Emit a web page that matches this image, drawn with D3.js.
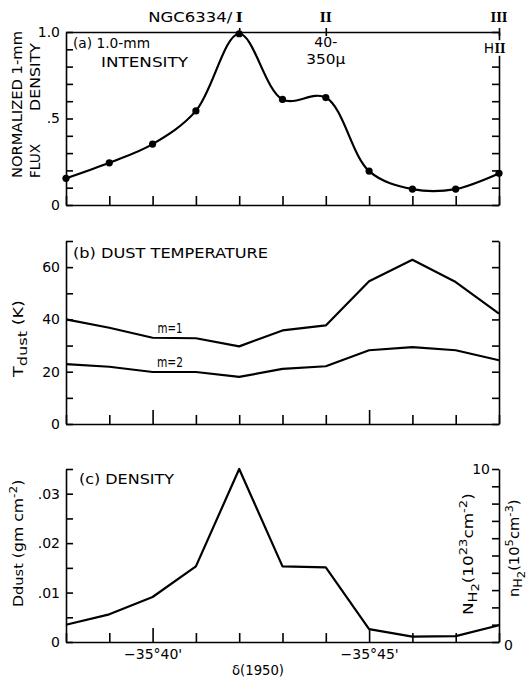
<!DOCTYPE html>
<html>
<head>
<meta charset="utf-8">
<script src="https://cdn.jsdelivr.net/npm/d3@7"></script>
<style>
  body { margin: 0; background: #fff; }
  svg { display: block; font-family: "DejaVu Sans", sans-serif; }
  .axis path, .axis line { stroke: #000; stroke-width: 1.6; }
  .axis text { font-size: 14px; fill: #000; font-family: "DejaVu Sans", sans-serif; }
  .roman { font-family: "DejaVu Serif", serif; font-weight: bold; }
</style>
</head>
<body>
<div id="chart"></div>
<script>
// declination, arcminutes south of -35 deg (delta = -35 deg N')
var decArcmin = [38, 39, 40, 41, 42, 43, 44, 45, 46, 47, 48];

// (a) normalized 1-mm flux density
var intensity = [0.154, 0.244, 0.352, 0.544, 0.99, 0.61, 0.621, 0.196, 0.092, 0.092, 0.183];

// (b) dust temperature (K)
var tempM1 = [40, 36.8, 33, 32.8, 29.7, 35.8, 37.7, 54.6, 62.8, 54.3, 42.2];
var tempM2 = [22.9, 21.9, 19.9, 19.9, 18, 21.1, 22.1, 28.2, 29.4, 28.2, 24.4];

// (c) dust column density (gm cm^-2)
var density = [0.0035, 0.0056, 0.0091, 0.0153, 0.035, 0.0153, 0.0151, 0.0026, 0.0011, 0.0012, 0.0034];

// source markers along the top
var markerDec = [42, 44, 48];
var markerName = ["I", "II", "III"];

// bottom tick labels
var labelDec = [40, 45];

var W = 529, H = 677;
var left = 66, right = 499;

var svg = d3.select("#chart").append("svg")
    .attr("width", W)
    .attr("height", H);

var x = d3.scaleLinear().domain([38, 48]).range([left, right]);

var yA = d3.scaleLinear().domain([0, 1]).range([205, 32]);
var yB = d3.scaleLinear().domain([0, 70]).range([424, 241]);
var yC = d3.scaleLinear().domain([0, 0.035]).range([642, 469]);
var yC2 = d3.scaleLinear().domain([0, 10]).range([642, 469]);

// plain text, optionally stretched to a fixed length (the lettering is wide)
function label(px, py, str, len, anchor) {
    var t = svg.append("text")
        .attr("x", px).attr("y", py)
        .attr("text-anchor", anchor || "start")
        .style("font-size", "14px")
        .text(str);
    if (len) t.attr("textLength", len).attr("lengthAdjust", "spacingAndGlyphs");
    return t;
}

// rotated text, bottom at (cx, by), stretched along its length by sx
function vlabel(cx, by, sx) {
    return svg.append("text")
        .attr("transform", "translate(" + cx + "," + by + ") rotate(-90) scale(" + sx + ",1)")
        .attr("dominant-baseline", "central")
        .style("font-size", "14px");
}

function bottomAxis(yPos, showLabels, longTicks) {
    var g = svg.append("g").attr("class", "axis")
        .attr("transform", "translate(0," + yPos + ")")
        .call(d3.axisBottom(x).tickValues(decArcmin).tickSize(-9).tickSizeOuter(0).tickPadding(7)
            .tickFormat(function(d) { return showLabels && labelDec.indexOf(d) >= 0 ? "\u221235\u00b0" + d + "'" : ""; }));
    if (longTicks) {
        g.selectAll(".tick line").attr("y2", function(d) { return labelDec.indexOf(d) >= 0 ? -14 : -9; });
    }
    return g;
}

function sideAxes(scale, ticks, fmt) {
    svg.append("g").attr("class", "axis")
        .attr("transform", "translate(" + left + ",0)")
        .call(d3.axisLeft(scale).tickValues(ticks).tickSize(-7).tickSizeOuter(0).tickPadding(6).tickFormat(fmt));
}

// ---------------- panel (a)
var tA = d3.range(0, 11).map(function(i) { return i / 10; });
sideAxes(yA, tA, function(d) {
    if (d === 0) return "0";
    if (Math.abs(d - 0.5) < 1e-6) return ".5";
    if (Math.abs(d - 1) < 1e-6) return "1.0";
    return "";
});
svg.append("g").attr("class", "axis")
    .attr("transform", "translate(" + right + ",0)")
    .call(d3.axisRight(yA).tickValues(tA).tickSize(-7).tickSizeOuter(0).tickFormat(""));
bottomAxis(205, false, false);

// top line with source markers
var topAx = svg.append("g").attr("class", "axis")
    .attr("transform", "translate(0,32)")
    .call(d3.axisTop(x).tickValues(markerDec).tickSize(4).tickSizeOuter(0).tickFormat(""));
topAx.selectAll(".tick line").attr("y1", 4);

svg.selectAll(".marker")
    .data(markerDec)
    .enter().append("text")
    .attr("class", "marker roman")
    .attr("x", function(d) { return x(d); })
    .attr("y", 22)
    .attr("text-anchor", "middle")
    .style("font-size", "13px")
    .attr("textLength", function(d, i) { return 7 + 5 * (markerName[i].length - 1); })
    .attr("lengthAdjust", "spacingAndGlyphs")
    .text(function(d, i) { return markerName[i]; });

label(x(42) - 7, 22, "NGC6334/", 84, "end");

var lineA = d3.line()
    .x(function(d, i) { return x(decArcmin[i]); })
    .y(function(d) { return yA(d); })
    .curve(d3.curveCatmullRom.alpha(0.5));

svg.append("path")
    .datum(intensity)
    .attr("d", lineA)
    .attr("fill", "none")
    .attr("stroke", "#000")
    .attr("stroke-width", 2.2);

svg.selectAll(".dotA")
    .data(intensity)
    .enter().append("circle")
    .attr("class", "dotA")
    .attr("cx", function(d, i) { return x(decArcmin[i]); })
    .attr("cy", function(d) { return yA(d); })
    .attr("r", 3.6)
    .attr("fill", "#000");

label(73, 48, "(a) 1.0-mm", 77);
label(101, 67, "INTENSITY", 87);
label(x(44), 47, "40-", null, "middle");
label(x(44), 64, "350\u03bc", 39, "middle");

// HII label sits on the right axis
label(x(48) - 10, 53, "H", null, "middle")
    .attr("stroke", "#fff").attr("stroke-width", 5).attr("paint-order", "stroke");
svg.append("text")
    .attr("class", "roman")
    .attr("x", x(48) + 1).attr("y", 53)
    .attr("text-anchor", "middle")
    .style("font-size", "13px")
    .attr("textLength", 11).attr("lengthAdjust", "spacingAndGlyphs")
    .attr("stroke", "#fff").attr("stroke-width", 5).attr("paint-order", "stroke")
    .text("II");

vlabel(17, 178, 1).text("NORMALIZED 1-mm")
    .attr("textLength", 147).attr("lengthAdjust", "spacingAndGlyphs");
vlabel(35, 178, 1).text("FLUX")
    .attr("textLength", 34).attr("lengthAdjust", "spacingAndGlyphs");
vlabel(35, 111, 1).text("DENSITY")
    .attr("textLength", 68).attr("lengthAdjust", "spacingAndGlyphs");

// ---------------- panel (b)
var tB = d3.range(0, 8).map(function(i) { return i * 10; });
sideAxes(yB, tB, function(d) { return d % 20 === 0 && d < 70 ? d : ""; });
svg.append("g").attr("class", "axis")
    .attr("transform", "translate(" + right + ",0)")
    .call(d3.axisRight(yB).tickValues(tB).tickSize(-7).tickSizeOuter(0).tickFormat(""));
bottomAxis(424, false, true);

var lineB = d3.line()
    .x(function(d, i) { return x(decArcmin[i]); })
    .y(function(d) { return yB(d); });

[tempM1, tempM2].forEach(function(s) {
    svg.append("path")
        .datum(s)
        .attr("d", lineB)
        .attr("fill", "none")
        .attr("stroke", "#000")
        .attr("stroke-width", 2.2)
        .attr("stroke-linejoin", "round");
});

label(73, 258, "(b) DUST  TEMPERATURE", 195);
label(170, 333, "m=1", 25, "middle");
label(170, 367, "m=2", 26, "middle");

var tLab = vlabel(18, 377, 1.25);
tLab.append("tspan").text("T");
tLab.append("tspan").attr("dy", 4).style("font-size", "13px").text("dust");
tLab.append("tspan").attr("dy", -4).text(" (K)");

// ---------------- panel (c)
var tC = d3.range(0, 8).map(function(i) { return i * 0.005; });
sideAxes(yC, tC, function(d) {
    var k = Math.round(d * 1000);
    if (k === 0) return "0";
    if (k % 10 === 0 && k < 35) return ".0" + (k / 10);
    return "";
});
var rAx = svg.append("g").attr("class", "axis")
    .attr("transform", "translate(" + right + ",0)")
    .call(d3.axisRight(yC2).tickValues(d3.range(0, 11)).tickSize(-7).tickSizeOuter(0).tickPadding(5)
        .tickFormat(function(d) { return d === 0 || d === 10 ? d : ""; }));
rAx.selectAll(".tick text").filter(function(d) { return d === 10; })
    .attr("x", -9).attr("text-anchor", "end");
rAx.selectAll(".tick text").filter(function(d) { return d === 0; }).attr("dy", "0.5em");

bottomAxis(642, true, true);

var lineC = d3.line()
    .x(function(d, i) { return x(decArcmin[i]); })
    .y(function(d) { return yC(d); });

svg.append("path")
    .datum(density)
    .attr("d", lineC)
    .attr("fill", "none")
    .attr("stroke", "#000")
    .attr("stroke-width", 2.2)
    .attr("stroke-linejoin", "round");

label(79, 484, "(c) DENSITY", 95);

var dLab = vlabel(18, 607, 1.12);
dLab.append("tspan").text("D");
dLab.append("tspan").style("font-size", "13px").text("dust");
dLab.append("tspan").text(" (gm cm");
dLab.append("tspan").attr("dy", -5).style("font-size", "11px").text("-2");
dLab.append("tspan").attr("dy", 5).text(")");

function nh2Label(cx, by, sx, sym, exp, unitExp) {
    var t = vlabel(cx, by, sx);
    t.append("tspan").text(sym);
    t.append("tspan").attr("dy", 4).style("font-size", "12px").text("H");
    t.append("tspan").attr("dy", 3).style("font-size", "11px").text("2");
    t.append("tspan").attr("dy", -7).text("(10");
    t.append("tspan").attr("dy", -5).style("font-size", "11px").text(exp);
    t.append("tspan").attr("dy", 5).text("cm");
    t.append("tspan").attr("dy", -5).style("font-size", "11px").text(unitExp);
    t.append("tspan").attr("dy", 5).text(")");
}
nh2Label(468, 615, 1.2, "N", "23", "-2");
nh2Label(514, 597, 1.05, "n", "5", "-3");

label(258, 675, "\u03b4(1950)", 52, "middle");
</script>
</body>
</html>
